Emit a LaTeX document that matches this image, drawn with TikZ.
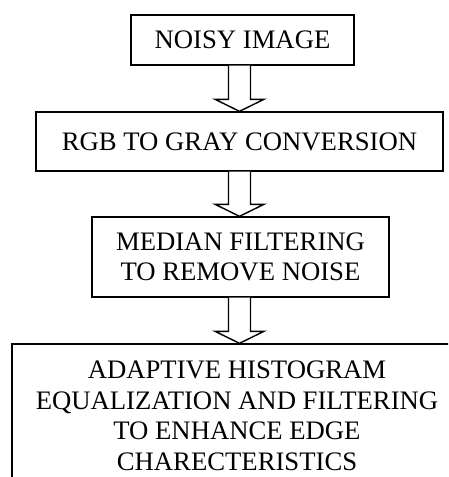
\documentclass[tikz,border=0pt]{standalone}
\usepackage{fontspec}
\setmainfont{Liberation Serif}
\usetikzlibrary{calc}
\begin{document}
\begin{tikzpicture}[x=1pt,y=-1pt,
  box/.style={draw,line width=1.4pt,inner sep=0pt,align=center,
    font=\fontsize{26.7}{30.5}\selectfont},
  lbl/.style={inner sep=0pt,align=center,font=\fontsize{26.7}{30.5}\selectfont},
  fatarrow/.style={draw,line width=1.4pt,fill=white,line join=miter}]
\useasboundingbox (0,0) rectangle (448,477);
\clip (0,0) rectangle (448,477);
\node[box,minimum width=223pt,minimum height=50pt] (b1) at (242.5,40) {NOISY IMAGE};
\node[box,minimum width=407pt,minimum height=59pt] (b2) at (239.5,141.5) {RGB TO GRAY CONVERSION};
\node[box,minimum width=297pt,minimum height=80pt] (b3) at (240.5,257) {MEDIAN FILTERING\\TO REMOVE NOISE};
\node[box,minimum width=448pt,minimum height=160pt] (b4) at (236,424) {};
\node[lbl] (t4) at (237,416) {ADAPTIVE HISTOGRAM\\EQUALIZATION AND FILTERING\\TO ENHANCE EDGE\\CHARECTERISTICS};
\path let \p1=(b1.south), \p2=(b2.north) in
  [fatarrow] (239.5pt-11pt,\y1) -- (239.5pt-11pt,\y2+12pt) -- (239.5pt-24.5pt,\y2+12pt)
  -- (239.5pt,\y2) -- (239.5pt+24.5pt,\y2+12pt) -- (239.5pt+11pt,\y2+12pt) -- (239.5pt+11pt,\y1);
\path let \p1=(b2.south), \p2=(b3.north) in
  [fatarrow] (239.5pt-11pt,\y1) -- (239.5pt-11pt,\y2+12pt) -- (239.5pt-24.5pt,\y2+12pt)
  -- (239.5pt,\y2) -- (239.5pt+24.5pt,\y2+12pt) -- (239.5pt+11pt,\y2+12pt) -- (239.5pt+11pt,\y1);
\path let \p1=(b3.south), \p2=(b4.north) in
  [fatarrow] (239.5pt-11pt,\y1) -- (239.5pt-11pt,\y2+12pt) -- (239.5pt-24.5pt,\y2+12pt)
  -- (239.5pt,\y2) -- (239.5pt+24.5pt,\y2+12pt) -- (239.5pt+11pt,\y2+12pt) -- (239.5pt+11pt,\y1);
\end{tikzpicture}
\end{document}
